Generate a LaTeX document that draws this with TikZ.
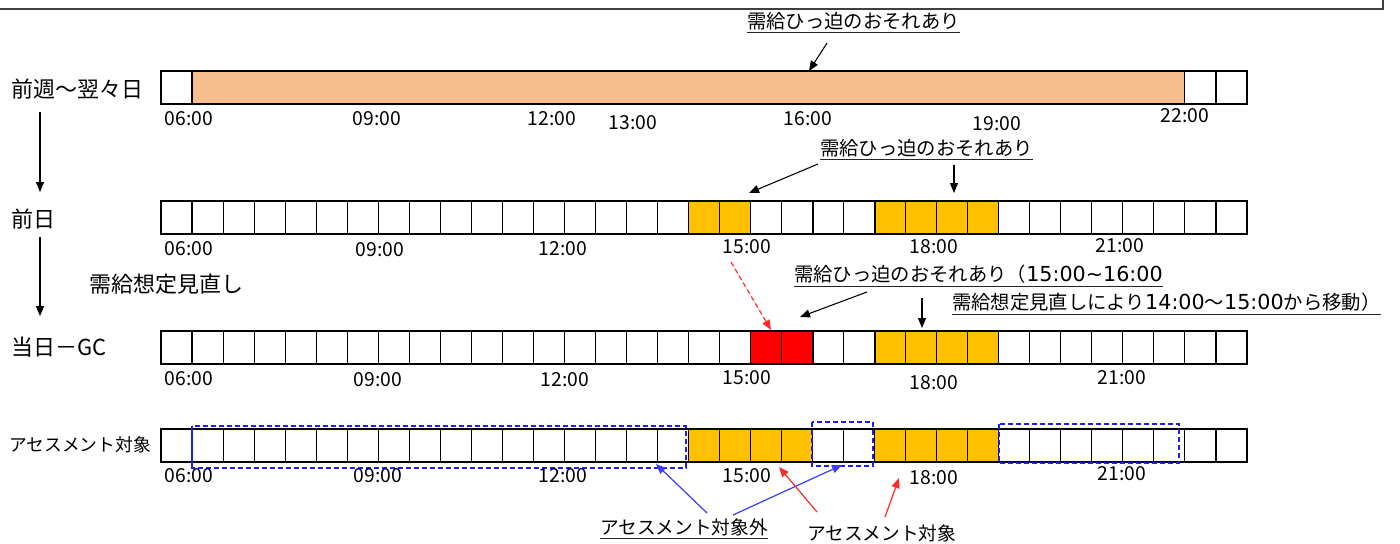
\documentclass[tikz,border=0pt]{standalone}
\usepackage{fontspec}
\setmainfont{Noto Sans CJK JP}
\newfontfamily\dvs{DejaVu Sans}
\usetikzlibrary{arrows.meta}
\definecolor{peach}{HTML}{F7BF90}
\definecolor{gold}{HTML}{FFC000}
\definecolor{bluedash}{HTML}{1E1EF0}
\definecolor{bluearr}{HTML}{3C3CFF}
\definecolor{redarr}{HTML}{FF2A2A}
\definecolor{frame}{HTML}{404040}
\newcommand\dig[1]{{\dvs\fontsize{15.5}{17}\selectfont #1}}
\begin{document}
\begin{tikzpicture}[x=0.75pt,y=-0.75pt,
  cell/.style={draw=black,line width=0.8pt},
  outer/.style={draw=black,line width=1.1pt},
  tl/.style={font=\fontsize{14.5}{16}\selectfont,inner sep=0pt},
  lab/.style={font=\fontsize{16.5}{18}\selectfont,inner sep=0pt,anchor=west},
  smalllab/.style={font=\fontsize{13.3}{15}\selectfont,inner sep=0pt,anchor=west},
  ann/.style={font=\fontsize{14.5}{17}\selectfont,inner sep=0pt,anchor=west},
  ulst/.style={line width=0.9pt,draw=black!85},
  blk/.style={line width=0.8pt,-{Triangle[length=7.5pt,width=6pt]}},
  bluea/.style={line width=0.9pt,draw=bluearr,-{Triangle[length=7.5pt,width=6pt]},fill=bluearr},
  reda/.style={line width=0.9pt,draw=redarr,-{Triangle[length=7.5pt,width=6pt]},fill=redarr},
  redd/.style={line width=0.9pt,draw=redarr,dash pattern=on 3.5pt off 2.5pt,-{Triangle[length=7.5pt,width=6pt]},fill=redarr},
  bbox/.style={draw=bluedash,line width=1pt,dash pattern=on 3.5pt off 2.5pt}
]
\useasboundingbox (0,0) rectangle (1400,543);
\def\cw{31.0286}
% top frame (partially visible)
\draw[frame,line width=1.3pt] (-5,9) -- (1383,9) -- (1383,-5);

% ---------- Row 1 ----------
\fill[peach] ({161+1*\cw},71) rectangle ({161+33*\cw},104);
\foreach \i in {0,33,34} {\draw[cell] ({161+\i*\cw},71) rectangle ({161+(\i+1)*\cw},104);}
\draw[outer] (161,71) rectangle (1247,104);

% ---------- Row 2 ----------
\foreach \i in {17,18,23,24,25,26} {\fill[gold] ({161+\i*\cw},201) rectangle ({161+(\i+1)*\cw},234);}
\foreach \i in {0,...,34} {\draw[cell] ({161+\i*\cw},201) rectangle ({161+(\i+1)*\cw},234);}
\draw[line width=1.6pt] ({161+21*\cw},201) -- ({161+21*\cw},234);
\draw[line width=1.6pt] ({161+23*\cw},201) -- ({161+23*\cw},234);
\draw[outer] (161,201) rectangle (1247,234);

% ---------- Row 3 ----------
\foreach \i in {19,20} {\fill[red] ({161+\i*\cw},331) rectangle ({161+(\i+1)*\cw},364);}
\foreach \i in {23,24,25,26} {\fill[gold] ({161+\i*\cw},331) rectangle ({161+(\i+1)*\cw},364);}
\foreach \i in {0,...,34} {\draw[cell] ({161+\i*\cw},331) rectangle ({161+(\i+1)*\cw},364);}
\draw[line width=1.6pt] ({161+21*\cw},331) -- ({161+21*\cw},364);
\draw[line width=1.6pt] ({161+23*\cw},331) -- ({161+23*\cw},364);
\draw[outer] (161,331) rectangle (1247,364);

% ---------- Row 4 ----------
\foreach \i in {17,18,19,20,23,24,25,26} {\fill[gold] ({161+\i*\cw},429) rectangle ({161+(\i+1)*\cw},462);}
\foreach \i in {0,...,34} {\draw[cell] ({161+\i*\cw},429) rectangle ({161+(\i+1)*\cw},462);}
\draw[outer] (161,429) rectangle (1247,462);
\draw[bbox] (192,426) rectangle (686,468);
\draw[draw=bluedash,line width=0.8pt] (192,426) -- (192,468);
\draw[bbox] (812,422) rectangle (873,466);
\draw[bbox] (999,424) rectangle (1179,463);

% ---------- time labels ----------
\node[tl] (r1a) at (189,119) {06:00};
\node[tl] (r1b) at (377,119) {09:00};
\node[tl] (r1c) at (552,119) {12:00};
\node[tl] (r1d) at (633,123) {13:00};
\node[tl] (r1e) at (808,119) {16:00};
\node[tl] (r1f) at (997,124) {19:00};
\node[tl] (r1g) at (1185,116) {22:00};

\node[tl] (r2a) at (189,249) {06:00};
\node[tl] (r2b) at (380,250) {09:00};
\node[tl] (r2c) at (563,249) {12:00};
\node[tl] (r2d) at (747,247) {15:00};
\node[tl] (r2e) at (934,247) {18:00};
\node[tl] (r2f) at (1120,246) {21:00};

\node[tl] (r3a) at (189,379) {06:00};
\node[tl] (r3b) at (378,380) {09:00};
\node[tl] (r3c) at (565,380) {12:00};
\node[tl] (r3d) at (747,378) {15:00};
\node[tl] (r3e) at (934,383) {18:00};
\node[tl] (r3f) at (1122,378) {21:00};

\node[tl] (r4a) at (189,476) {06:00};
\node[tl] (r4b) at (378,476) {09:00};
\node[tl] (r4c) at (563,476) {12:00};
\node[tl] (r4d) at (747,476) {15:00};
\node[tl] (r4e) at (934,478) {18:00};
\node[tl] (r4f) at (1122,474) {21:00};

% ---------- left labels ----------
\node[lab] (l1) at (11,89) {前週～翌々日};
\node[lab] (l2) at (11,219) {前日};
\node[lab] (l3) at (11,347) {当日－GC};
\node[smalllab] (l4) at (9,445) {アセスメント対象};
\node[lab] (l5) at (89,284) {需給想定見直し};
\coordinate (v1s) at (40,112);
\coordinate (v1e) at (40,192);
\coordinate (v2s) at (40,237);
\coordinate (v2e) at (40,316);
\draw[blk] (v1s) -- (v1e);
\draw[blk] (v2s) -- (v2e);

% ---------- annotations ----------
\node[ann] (t1) at (747,21) {需給ひっ迫のおそれあり};
\draw[ulst] ([yshift=-2pt]t1.south west) -- ([yshift=-2pt]t1.south east);
\coordinate (t1s) at (827,43);
\coordinate (t1e) at (809,71);
\draw[blk] (t1s) -- (t1e);

\node[ann] (t2) at (820,148) {需給ひっ迫のおそれあり};
\draw[ulst] ([yshift=-2pt]t2.south west) -- ([yshift=-2pt]t2.south east);
\coordinate (t2s1) at (818,164);
\coordinate (t2e1) at (749,193);
\coordinate (t2s2) at (954,165);
\coordinate (t2e2) at (954,193);
\draw[blk] (t2s1) -- (t2e1);
\draw[blk] (t2s2) -- (t2e2);

\node[ann] (t3) at (794,274) {需給ひっ迫のおそれあり（\dig{15:00\char"7E 16:00}};
\draw[ulst] ([yshift=-2pt]t3.south west) -- ([yshift=-2pt]t3.south east);
\node[ann] (t4) at (952,302) {需給想定見直しにより\dig{14:00}～\dig{15:00}から移動）};
\draw[ulst] ([yshift=-2pt]t4.south west) -- ([yshift=-2pt]t4.south east);
\coordinate (t3s) at (867,292);
\coordinate (t3e) at (800,317);
\coordinate (t4s) at (922,298);
\coordinate (t4e) at (922,328);
\coordinate (rds) at (731,262);
\coordinate (rde) at (771,330);
\draw[blk] (t3s) -- (t3e);
\draw[blk] (t4s) -- (t4e);
\draw[redd] (rds) -- (rde);

% ---------- bottom labels ----------
\node[ann,font=\fontsize{14}{16}\selectfont] (b1) at (600,527) {アセスメント対象外};
\draw[ulst] ([yshift=-2pt]b1.south west) -- ([yshift=-2pt]b1.south east);
\node[ann,font=\fontsize{14}{16}\selectfont] (b2) at (807,533) {アセスメント対象};
\coordinate (b1s1) at (707,513);
\coordinate (b1e1) at (656,464);
\coordinate (b1s2) at (733,515);
\coordinate (b1e2) at (842,465);
\coordinate (b2s1) at (817,512);
\coordinate (b2e1) at (779,467);
\coordinate (b2s2) at (885,517);
\coordinate (b2e2) at (899,478);
\draw[bluea] (b1s1) -- (b1e1);
\draw[bluea] (b1s2) -- (b1e2);
\draw[reda] (b2s1) -- (b2e1);
\draw[reda] (b2s2) -- (b2e2);
\end{tikzpicture}
\end{document}
